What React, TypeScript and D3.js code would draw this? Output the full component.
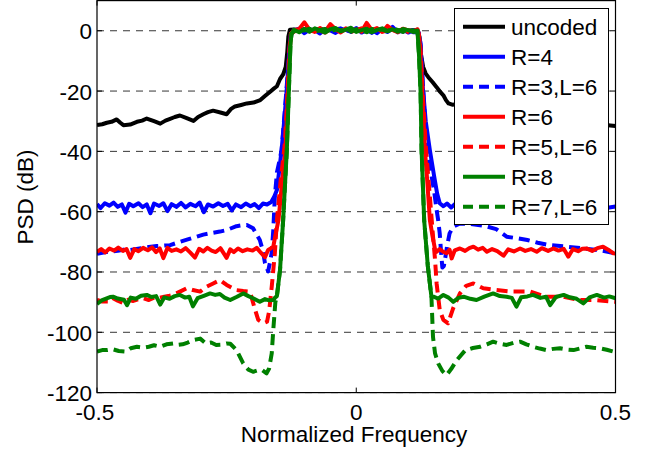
import React from "react";
import * as d3 from "d3";

type Pt = [number, number];

// Normalized frequency grid used inside the passband
const passFreq: number[] = [-0.12, -0.11, -0.1, -0.09, -0.08, -0.07, -0.06, -0.05, -0.04, -0.03, -0.02, -0.01, 0, 0.01, 0.02, 0.03, 0.04, 0.05, 0.06, 0.07, 0.08, 0.09, 0.1, 0.11];

// ---- uncoded ----
const uncodedLeft: Pt[] = [[-0.5, -31.3], [-0.49, -31], [-0.481, -30.5], [-0.472, -30.2], [-0.462, -29.4], [-0.455, -30.5], [-0.449, -31.3], [-0.436, -31.1], [-0.423, -30.2], [-0.413, -29.8], [-0.404, -29.1], [-0.39, -30], [-0.378, -30.8], [-0.368, -29.8], [-0.359, -29.2], [-0.35, -28.6], [-0.34, -28.1], [-0.327, -29], [-0.314, -29.9], [-0.305, -28.6], [-0.295, -27.7], [-0.286, -27], [-0.276, -26.5], [-0.262, -27.1], [-0.25, -27.7], [-0.242, -26], [-0.234, -25.1], [-0.222, -24.6], [-0.211, -24.1], [-0.198, -23.8], [-0.185, -23], [-0.175, -21.5], [-0.166, -20.2], [-0.159, -19.2], [-0.153, -18.4], [-0.147, -16], [-0.141, -14.5], [-0.136, -12], [-0.133, -7], [-0.131, -2], [-0.128, 0.3]];
const uncodedPass: number[] = [0.4, 0.1, 0.5, -0.2, 0.3, 0.6, -0.1, 0.2, 0.5, 0, 0.3, -0.2, 0.4, 0.1, 0.6, -0.1, 0.2, 0.5, 0, 0.3, -0.2, 0.4, 0.1, 0.2];
const uncodedRight: Pt[] = [[0.118, 0.3], [0.122, -2], [0.125, -8], [0.129, -12], [0.134, -14.2], [0.139, -15.4], [0.147, -17], [0.155, -18.7], [0.162, -20.3], [0.168, -21.4], [0.173, -23], [0.178, -24.1], [0.185, -24.5], [0.2, -24.3], [0.22, -25.5], [0.25, -27], [0.28, -27.5], [0.31, -28.8], [0.34, -29.3], [0.37, -30], [0.4, -30.2], [0.43, -30.8], [0.46, -31], [0.48, -31.2], [0.49, -31.4], [0.5, -31.6]];

// ---- R=4 ----
const r4Left: Pt[] = [[-0.5, -57.5], [-0.493, -58.8], [-0.485, -57.2], [-0.476, -58], [-0.468, -57], [-0.46, -58.4], [-0.452, -57.6], [-0.445, -60.3], [-0.438, -57.4], [-0.43, -58.2], [-0.42, -57.2], [-0.412, -58.5], [-0.404, -57.6], [-0.397, -60.5], [-0.39, -57.3], [-0.38, -58.1], [-0.372, -57.2], [-0.364, -59.8], [-0.356, -57.5], [-0.347, -58.4], [-0.338, -57.1], [-0.329, -58.6], [-0.32, -57.4], [-0.31, -58.2], [-0.302, -57], [-0.294, -60.2], [-0.286, -57.6], [-0.276, -58.3], [-0.266, -57.2], [-0.257, -58.1], [-0.248, -57.4], [-0.24, -59.6], [-0.232, -57.6], [-0.222, -58.5], [-0.213, -57.3], [-0.204, -58.2], [-0.196, -57.5], [-0.188, -58.8], [-0.18, -57.3], [-0.172, -57.6], [-0.164, -56.8], [-0.158, -55], [-0.153, -52.8], [-0.147, -44], [-0.144, -39.6], [-0.138, -28], [-0.133, -17], [-0.129, -6], [-0.126, -1]];
const r4Pass: number[] = [0.1, 0.7, -0.8, 0.4, 0.2, -0.9, 0.6, 0.1, -0.7, 0.5, 0.3, -0.4, 0.9, -0.6, 0.2, 0.4, -0.8, 0.6, 0.1, 1.3, -0.5, 0.3, -0.6, 0.2];
const r4Right: Pt[] = [[0.12, -0.5], [0.124, -5], [0.128, -18], [0.134, -30], [0.142, -39.6], [0.15, -48], [0.156, -54], [0.161, -57.2], [0.168, -58.2], [0.175, -57.3], [0.183, -58.6], [0.19, -57.5], [0.2, -58.3], [0.21, -57.2], [0.22, -59.5], [0.23, -57.6], [0.25, -58.2], [0.27, -57.3], [0.29, -59.8], [0.31, -57.5], [0.33, -58.4], [0.35, -57.2], [0.37, -58.6], [0.39, -57.4], [0.41, -59.9], [0.43, -57.6], [0.45, -58.3], [0.47, -57.4], [0.485, -58.7], [0.5, -58.3]];

// ---- R=3, L=6 ----
const r3Left: Pt[] = [[-0.5, -74], [-0.49, -73.6], [-0.475, -73.2], [-0.46, -73], [-0.445, -72.5], [-0.436, -72.7], [-0.415, -72.1], [-0.4, -71.7], [-0.385, -71.4], [-0.37, -71.2], [-0.359, -71.1], [-0.34, -70], [-0.325, -69.2], [-0.308, -68.3], [-0.295, -67.6], [-0.28, -67.1], [-0.263, -66.6], [-0.25, -66.1], [-0.231, -64.8], [-0.22, -64.5], [-0.211, -64.4], [-0.199, -65.5], [-0.186, -69.4], [-0.18, -73], [-0.176, -77.1], [-0.17, -79.8], [-0.166, -76.5], [-0.163, -73.5], [-0.16, -66], [-0.157, -55], [-0.153, -47], [-0.148, -43], [-0.144, -39.6], [-0.138, -27], [-0.133, -16], [-0.128, -5], [-0.125, -1]];
const r3Pass: number[] = [0.3, -0.6, 0.5, 0.1, -0.4, 0.7, 0.2, -0.5, 0.4, 0.8, -0.3, 0.1, 0.6, -0.2, 0.3, -0.7, 0.5, 0.2, -0.4, 0.6, 0.1, -0.3, 0.4, -0.5];
const r3Right: Pt[] = [[0.12, -0.5], [0.124, -4], [0.128, -16], [0.132, -28], [0.136, -39.6], [0.145, -48], [0.15, -53], [0.155, -59.4], [0.158, -62.8], [0.161, -67.2], [0.163, -72], [0.166, -78.5], [0.169, -78], [0.172, -75], [0.175, -71.6], [0.18, -67.2], [0.187, -65], [0.2, -63.9], [0.22, -64.1], [0.25, -64.8], [0.27, -65.8], [0.29, -68.3], [0.31, -68.8], [0.33, -69.4], [0.35, -70.3], [0.37, -71], [0.4, -71.5], [0.44, -72.2], [0.47, -72.8], [0.5, -73.8]];

// ---- R=6 ----
const r6Left: Pt[] = [[-0.5, -73.3], [-0.492, -72.4], [-0.484, -73.5], [-0.476, -72.2], [-0.467, -72.9], [-0.459, -71.9], [-0.45, -73], [-0.443, -72.4], [-0.436, -75.3], [-0.428, -72.4], [-0.42, -73.1], [-0.411, -72], [-0.402, -72.8], [-0.394, -71.8], [-0.386, -73.4], [-0.379, -72.2], [-0.372, -75.4], [-0.364, -72], [-0.356, -73], [-0.347, -72.5], [-0.338, -73.2], [-0.329, -72.1], [-0.32, -73.6], [-0.311, -75.2], [-0.303, -72.3], [-0.295, -73.2], [-0.287, -72], [-0.279, -72.9], [-0.271, -73.4], [-0.262, -72.1], [-0.25, -75.3], [-0.243, -72.5], [-0.236, -73.4], [-0.228, -72.2], [-0.219, -73.1], [-0.21, -72.5], [-0.2, -72.9], [-0.192, -72], [-0.184, -73.6], [-0.176, -75.1], [-0.17, -72.7], [-0.165, -72.2], [-0.16, -71.6], [-0.155, -67], [-0.15, -62.8], [-0.144, -52], [-0.137, -40], [-0.132, -22], [-0.128, -6], [-0.126, -1]];
const r6Pass: number[] = [0.2, 0.6, 2.8, 0.3, -0.4, 0.9, -0.2, 2.2, 0.5, -0.6, 0.8, 0.1, 0.4, -0.3, 2.6, 0.2, 0.9, -0.4, 1.6, 0.3, -0.5, 0.7, 0.1, -0.2];
const r6Right: Pt[] = [[0.118, 0.5], [0.122, -3], [0.126, -15], [0.1325, -39.6], [0.137, -50], [0.142, -62.8], [0.147, -68], [0.152, -72.5], [0.155, -73.3], [0.161, -72.4], [0.167, -73.2], [0.174, -73.8], [0.18, -72.6], [0.184, -75.5], [0.19, -72.8], [0.2, -72.2], [0.21, -73], [0.218, -72.1], [0.226, -71.6], [0.235, -72.6], [0.244, -72], [0.252, -73.3], [0.262, -72.4], [0.272, -73.1], [0.284, -74.6], [0.293, -72.5], [0.304, -73.2], [0.316, -72.2], [0.326, -73], [0.337, -72.4], [0.348, -73.3], [0.358, -72.1], [0.37, -73], [0.38, -72.2], [0.39, -72.9], [0.4, -72.3], [0.409, -74.9], [0.418, -72.4], [0.428, -73.1], [0.436, -72.3], [0.444, -72.2], [0.455, -73], [0.465, -72.1], [0.476, -71.6], [0.486, -72.6], [0.496, -73.8], [0.5, -73.9]];

// ---- R=5, L=6 ----
const r5Left: Pt[] = [[-0.5, -89.3], [-0.49, -89.8], [-0.479, -89.8], [-0.47, -88.6], [-0.46, -89.5], [-0.45, -90.3], [-0.44, -89.2], [-0.43, -89.6], [-0.42, -89], [-0.41, -88.7], [-0.4, -89.3], [-0.39, -88.5], [-0.38, -88.6], [-0.37, -88.2], [-0.36, -87.9], [-0.353, -87.6], [-0.34, -86.5], [-0.327, -85.4], [-0.315, -86], [-0.301, -86.5], [-0.29, -85], [-0.276, -83.8], [-0.263, -82.7], [-0.25, -84.3], [-0.24, -85.2], [-0.231, -86], [-0.218, -86.3], [-0.205, -86.5], [-0.195, -92.6], [-0.189, -95.9], [-0.179, -97], [-0.172, -96.5], [-0.168, -93], [-0.163, -84.9], [-0.157, -73.8], [-0.153, -62.8], [-0.146, -50], [-0.138, -38], [-0.133, -22], [-0.129, -6], [-0.126, -1]];
const r5Pass: number[] = [-0.3, 0.4, 0.9, -0.2, 0.5, 0.1, -0.6, 0.7, 0.3, -0.1, 0.5, -0.4, 0.2, 0.8, -0.3, 0.4, 0.1, -0.5, 0.6, 0.2, -0.2, 0.5, -0.4, 0.3];
const r5Right: Pt[] = [[0.12, -0.5], [0.124, -6], [0.128, -20], [0.134, -38], [0.142, -55], [0.148, -68], [0.152, -76], [0.155, -83.8], [0.161, -92.6], [0.168, -95.9], [0.177, -97], [0.187, -92], [0.2, -87.1], [0.212, -84.6], [0.226, -83.8], [0.245, -85.4], [0.27, -86], [0.3, -86.5], [0.335, -86.5], [0.365, -88.2], [0.4, -88.2], [0.43, -89.3], [0.46, -89.3], [0.5, -89.9]];

// ---- R=8 ----
const r8Left: Pt[] = [[-0.5, -90.6], [-0.49, -89.3], [-0.475, -88.3], [-0.469, -88.2], [-0.46, -88.8], [-0.448, -89.2], [-0.442, -91], [-0.435, -88.5], [-0.425, -88.9], [-0.415, -87.9], [-0.404, -87.6], [-0.395, -88.3], [-0.386, -88], [-0.378, -90.8], [-0.37, -88.4], [-0.36, -88.9], [-0.35, -88], [-0.34, -87.6], [-0.33, -88.5], [-0.322, -88.2], [-0.315, -91.4], [-0.306, -88.7], [-0.294, -87.9], [-0.282, -87.1], [-0.272, -87.6], [-0.263, -87.3], [-0.254, -88.5], [-0.243, -89.3], [-0.23, -88.2], [-0.218, -87.1], [-0.208, -88], [-0.198, -88.8], [-0.186, -89.9], [-0.176, -89], [-0.168, -89.4], [-0.16, -89.3], [-0.156, -88.4], [-0.153, -88], [-0.147, -79.3], [-0.141, -62.8], [-0.134, -40], [-0.13, -20], [-0.127, -5], [-0.125, -1]];
const r8Pass: number[] = [0.3, -0.5, 0.6, -0.3, 0.8, 0.1, -0.6, 0.5, 0.9, -0.2, 0.4, 1.0, -0.4, 0.2, 0.7, -0.5, 0.3, 0.8, -0.1, 0.5, -0.3, 0.6, 0.2, -0.4];
const r8Right: Pt[] = [[0.118, 0], [0.121, -8], [0.124, -20], [0.126, -39.6], [0.131, -62.8], [0.138, -78], [0.145, -88.2], [0.149, -88.2], [0.158, -88.8], [0.168, -87.6], [0.178, -88.5], [0.187, -89.9], [0.197, -88.6], [0.207, -88.2], [0.22, -88.9], [0.232, -89.3], [0.247, -88.2], [0.264, -87.1], [0.277, -88], [0.29, -88.2], [0.3, -88.6], [0.309, -91.5], [0.318, -88.4], [0.33, -88.1], [0.341, -87.6], [0.355, -88.6], [0.366, -88.2], [0.374, -91], [0.385, -88.3], [0.4, -87.6], [0.412, -88.4], [0.425, -88.9], [0.438, -90.4], [0.45, -88.4], [0.464, -87.6], [0.478, -88.5], [0.488, -88.1], [0.5, -88.7]];

// ---- R=7, L=6 ----
const r7Left: Pt[] = [[-0.5, -106.4], [-0.49, -105.9], [-0.48, -105.9], [-0.47, -105.6], [-0.458, -106.2], [-0.443, -106.4], [-0.435, -105.3], [-0.423, -104.8], [-0.41, -105.1], [-0.4, -104.8], [-0.39, -104.3], [-0.378, -104.8], [-0.366, -104], [-0.353, -103.7], [-0.345, -104.2], [-0.335, -104], [-0.325, -103.4], [-0.315, -102.6], [-0.301, -102.1], [-0.29, -103.7], [-0.28, -103.4], [-0.27, -104.2], [-0.26, -104.1], [-0.25, -103.7], [-0.243, -103.8], [-0.231, -105.9], [-0.218, -110.3], [-0.208, -112.4], [-0.199, -113.1], [-0.19, -112.6], [-0.182, -112.5], [-0.173, -113.6], [-0.168, -112], [-0.163, -107], [-0.16, -99.2], [-0.156, -90], [-0.153, -88], [-0.147, -79.3], [-0.141, -62.8], [-0.134, -40], [-0.13, -20], [-0.127, -5], [-0.125, -1]];
const r7Pass: number[] = [-0.2, 0.5, 0.1, 0.7, -0.4, 0.3, 0.6, -0.2, 0.4, 0.1, 0.8, -0.3, 0.5, 0.2, -0.5, 0.6, 0.1, 0.4, -0.2, 0.7, 0.3, -0.4, 0.5, 0.1];
const r7Right: Pt[] = [[0.118, 0], [0.121, -8], [0.124, -20], [0.126, -39.6], [0.131, -62.8], [0.138, -78], [0.145, -88.2], [0.148, -101.5], [0.152, -107], [0.158, -110.3], [0.166, -112.8], [0.174, -114.2], [0.183, -112.2], [0.194, -109.2], [0.21, -106], [0.225, -105.2], [0.239, -104.8], [0.252, -104], [0.264, -103.1], [0.277, -103.8], [0.29, -104.2], [0.303, -103.5], [0.316, -103.1], [0.328, -104], [0.341, -104.8], [0.354, -105.4], [0.367, -105.9], [0.38, -105.5], [0.393, -105.3], [0.406, -105.7], [0.419, -105.9], [0.431, -105.4], [0.444, -104.8], [0.457, -105.1], [0.47, -105.3], [0.483, -105.8], [0.496, -106.4], [0.5, -106.5]];

const seriesNames: string[] = ["uncoded", "R=4", "R=3,L=6", "R=6", "R=5,L=6", "R=8", "R=7,L=6"];
const seriesColors: string[] = ["#000000", "#0000ff", "#0000ff", "#ff0000", "#ff0000", "#008000", "#008000"];
const seriesDashed: boolean[] = [false, false, true, false, true, false, true];

const xTicks: number[] = [-0.5, 0, 0.5];
const yTicks: number[] = [-120, -100, -80, -60, -40, -20, 0];

const build = (left: Pt[], pass: number[], right: Pt[]): Pt[] => [
  ...left,
  ...passFreq.map((f, i) => [f, pass[i]] as Pt),
  ...right,
];

const seriesData: Pt[][] = [
  build(uncodedLeft, uncodedPass, uncodedRight),
  build(r4Left, r4Pass, r4Right),
  build(r3Left, r3Pass, r3Right),
  build(r6Left, r6Pass, r6Right),
  build(r5Left, r5Pass, r5Right),
  build(r8Left, r8Pass, r8Right),
  build(r7Left, r7Pass, r7Right),
];

const W = 652;
const H = 455;
const plot = { left: 97, right: 615.5, top: 0.6, bottom: 392.6 };
const FONT = "'Liberation Sans', Arial, Helvetica, sans-serif";
const FS = 22.5;
const LW = 4;

export default function App() {
  const x = d3.scaleLinear().domain([-0.5, 0.5]).range([plot.left, plot.right]);
  const y = d3.scaleLinear().domain([-120, 10]).range([plot.bottom, plot.top]);
  const line = d3
    .line<Pt>()
    .x((d) => x(d[0]))
    .y((d) => y(d[1]));

  const legend = { x: 454.5, y: 8.5, w: 154, h: 216 };

  return (
    <svg
      width={W}
      height={H}
      style={{ position: "absolute", left: 0, top: 0, background: "#fff" }}
      fontFamily={FONT}
    >
      <defs>
        <clipPath id="plotClip">
          <rect x={plot.left} y={plot.top} width={plot.right - plot.left} height={plot.bottom - plot.top} />
        </clipPath>
      </defs>
      <rect x={0} y={0} width={W} height={H} fill="#fff" />

      {/* horizontal dashed grid */}
      {yTicks.map((t) => (
        <line
          key={`g${t}`}
          x1={plot.left}
          x2={plot.right}
          y1={y(t)}
          y2={y(t)}
          stroke="#000"
          strokeWidth={0.8}
          strokeDasharray="7,6"
        />
      ))}

      {/* spectra */}
      <g clipPath="url(#plotClip)">
        {seriesData.map((pts, i) => (
          <path
            key={seriesNames[i]}
            d={line(pts) || ""}
            fill="none"
            stroke={seriesColors[i]}
            strokeWidth={LW}
            strokeLinejoin="round"
            strokeDasharray={seriesDashed[i] ? "11,6" : undefined}
          />
        ))}
      </g>

      {/* axes box */}
      <rect
        x={plot.left}
        y={plot.top}
        width={plot.right - plot.left}
        height={plot.bottom - plot.top}
        fill="none"
        stroke="#000"
        strokeWidth={1.2}
      />

      {/* ticks */}
      {yTicks.map((t) => (
        <g key={`yt${t}`}>
          <line x1={plot.left} x2={plot.left + 5} y1={y(t)} y2={y(t)} stroke="#000" strokeWidth={1} />
          <line x1={plot.right - 5} x2={plot.right} y1={y(t)} y2={y(t)} stroke="#000" strokeWidth={1} />
          <text x={92} y={y(t) + 8.5} textAnchor="end" fontSize={FS} fill="#000">
            {t}
          </text>
        </g>
      ))}
      {xTicks.map((t) => (
        <g key={`xt${t}`}>
          <line x1={x(t)} x2={x(t)} y1={plot.bottom} y2={plot.bottom - 5} stroke="#000" strokeWidth={1} />
          <line x1={x(t)} x2={x(t)} y1={plot.top} y2={plot.top + 5} stroke="#000" strokeWidth={1} />
          <text x={x(t) - (t < 0 ? 2 : 0)} y={420} textAnchor="middle" fontSize={FS} fill="#000">
            {t}
          </text>
        </g>
      ))}

      {/* axis labels */}
      <text x={354} y={442} textAnchor="middle" fontSize={FS} fill="#000">
        Normalized Frequency
      </text>
      <text transform="translate(33,197) rotate(-90)" textAnchor="middle" fontSize={FS} fill="#000">
        PSD (dB)
      </text>

      {/* legend */}
      <rect x={legend.x} y={legend.y} width={legend.w} height={legend.h} fill="#fff" stroke="#000" strokeWidth={1} />
      {seriesNames.map((name, i) => {
        const ly = 26.7 + i * 30;
        return (
          <g key={`lg${name}`}>
            <line
              x1={463}
              x2={505}
              y1={ly}
              y2={ly}
              stroke={seriesColors[i]}
              strokeWidth={LW}
              strokeDasharray={seriesDashed[i] ? "10,6" : undefined}
            />
            <text x={511} y={ly + 8} fontSize={FS} fill="#000">
              {name}
            </text>
          </g>
        );
      })}
    </svg>
  );
}
